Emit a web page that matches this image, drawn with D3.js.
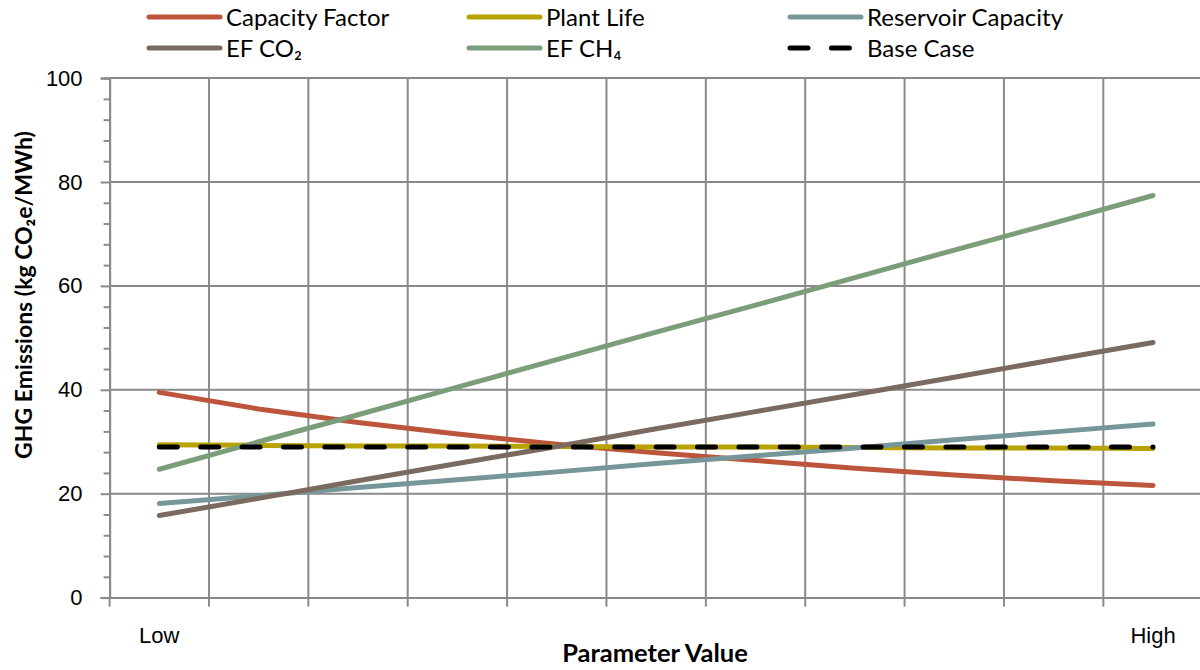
<!DOCTYPE html>
<html>
<head>
<meta charset="utf-8">
<script src="https://cdn.jsdelivr.net/npm/d3@7/dist/d3.min.js"></script>
<style>
  html, body { margin: 0; padding: 0; background: #ffffff; }
  svg { display: block; font-family: Lato, "Noto Sans", "DejaVu Sans", sans-serif; }
</style>
</head>
<body>
<svg id="chart" width="1200" height="670"></svg>
<script>
// Sensitivity of GHG emissions to each parameter, swept from Low to High
const steps = ["Low", "", "", "", "", "", "", "", "", "", "High"];
const capacityFactor    = [39.5, 36.3, 33.7, 31.5, 29.5, 27.9, 26.4, 24.9, 23.6, 22.5, 21.6];
const plantLife         = [29.4, 29.3, 29.2, 29.2, 29.1, 29.0, 29.0, 28.9, 28.8, 28.8, 28.7];
const reservoirCapacity = [18.1, 19.6, 21.2, 22.7, 24.2, 25.8, 27.3, 28.8, 30.4, 31.9, 33.4];
const efCO2             = [15.8, 19.1, 22.5, 25.8, 29.1, 32.5, 35.8, 39.1, 42.4, 45.8, 49.1];
const efCH4             = [24.7, 30.0, 35.2, 40.5, 45.8, 51.1, 56.3, 61.6, 66.9, 72.1, 77.4];
const baseCase          = [29.0, 29.0, 29.0, 29.0, 29.0, 29.0, 29.0, 29.0, 29.0, 29.0, 29.0];
const yTicks = [0, 20, 40, 60, 80, 100];

const series = [
  { name: "Capacity Factor",    values: capacityFactor,    color: "#bc553c" },
  { name: "Plant Life",         values: plantLife,         color: "#b8a200" },
  { name: "Reservoir Capacity", values: reservoirCapacity, color: "#76979a" },
  { name: "EF CO₂",             values: efCO2,             color: "#7b6a60" },
  { name: "EF CH₄",             values: efCH4,             color: "#7b9d79" },
  { name: "Base Case",          values: baseCase,          color: "#000000", dashed: true }
];

const svg = d3.select("#chart");
const W = 1200;
const plot = { left: 109.6, right: 1202.7, top: 78.1, bottom: 597.6 };
const gridColor = "#8a8a8a";

const x = d3.scaleBand().domain(d3.range(steps.length)).range([plot.left, plot.right]).padding(0);
const xc = i => x(i) + x.bandwidth() / 2;
const y = d3.scaleLinear().domain([0, 100]).range([plot.bottom, plot.top]);

// horizontal gridlines
svg.append("g").selectAll("line").data(yTicks.filter(v => v > 0)).join("line")
  .attr("x1", plot.left).attr("x2", W)
  .attr("y1", d => y(d)).attr("y2", d => y(d))
  .attr("stroke", gridColor).attr("stroke-width", 2);

// vertical gridlines at category boundaries
const bounds = d3.range(1, steps.length).map(i => x(i));
svg.append("g").selectAll("line").data(bounds).join("line")
  .attr("x1", d => d).attr("x2", d => d)
  .attr("y1", plot.top).attr("y2", plot.bottom)
  .attr("stroke", gridColor).attr("stroke-width", 2);

// y axis: minor ticks every 4, major every 20
const minor = d3.range(0, 101, 4).filter(v => v % 20 !== 0);
const yMinor = svg.append("g").attr("transform", `translate(${plot.left},0)`)
  .call(d3.axisLeft(y).tickValues(minor).tickSize(6).tickFormat(""));
const yAxis = svg.append("g").attr("transform", `translate(${plot.left},0)`)
  .call(d3.axisLeft(y).tickValues(yTicks).tickSize(9).tickPadding(18));
[yMinor, yAxis].forEach(g => {
  g.select(".domain").attr("stroke", gridColor).attr("stroke-width", 2);
  g.selectAll(".tick line").attr("stroke", gridColor).attr("stroke-width", 2);
});
yAxis.selectAll(".tick text").attr("font-size", 22).attr("fill", "#000").style("font-family", "inherit");

// x axis: ticks between categories, labels centred on categories
const xAxis = svg.append("g").attr("transform", `translate(0,${plot.bottom})`)
  .call(d3.axisBottom(x).tickSize(0).tickPadding(30).tickFormat(i => steps[i]));
xAxis.select(".domain").attr("stroke", gridColor).attr("stroke-width", 2);
xAxis.selectAll(".tick text").attr("font-size", 22).attr("fill", "#000").style("font-family", "inherit");
xAxis.append("g").selectAll("line").data(d3.range(0, steps.length + 1).map(i => i < steps.length ? x(i) : plot.right))
  .join("line")
  .attr("x1", d => d).attr("x2", d => d).attr("y1", 0).attr("y2", 9)
  .attr("stroke", gridColor).attr("stroke-width", 2);

// axis titles
svg.append("text")
  .attr("x", 655).attr("y", 662)
  .attr("text-anchor", "middle").attr("font-size", 25.5).attr("font-weight", "bold")
  .text("Parameter Value");
svg.append("text")
  .attr("transform", "translate(32,295) rotate(-90)")
  .attr("text-anchor", "middle").attr("font-size", 23).attr("font-weight", "bold")
  .text("GHG Emissions (kg CO₂e/MWh)");

// series lines
const line = d3.line().x((d, i) => xc(i)).y(d => y(d));
svg.append("g").selectAll("path").data(series).join("path")
  .attr("d", s => line(s.values))
  .attr("fill", "none")
  .attr("stroke", s => s.color)
  .attr("stroke-width", 5)
  .attr("stroke-linecap", "round")
  .attr("stroke-linejoin", "round")
  .attr("stroke-dasharray", s => s.dashed ? "18,23.4" : null);

// legend, three columns by two rows
const legendCols = [149, 469, 790];
const legendRows = [17, 48];
const legend = svg.append("g").selectAll("g").data(series).join("g")
  .attr("transform", (s, i) => `translate(${legendCols[i % 3]},${legendRows[Math.floor(i / 3)]})`);
legend.append("line")
  .attr("x1", 0).attr("x2", 71).attr("y1", 0).attr("y2", 0)
  .attr("stroke", s => s.color).attr("stroke-width", 5)
  .attr("stroke-linecap", "round")
  .attr("stroke-dasharray", s => s.dashed ? "18,23.4" : null);
legend.append("text")
  .attr("x", 77).attr("y", 9)
  .attr("font-size", 24)
  .text(s => s.name);
</script>
</body>
</html>
